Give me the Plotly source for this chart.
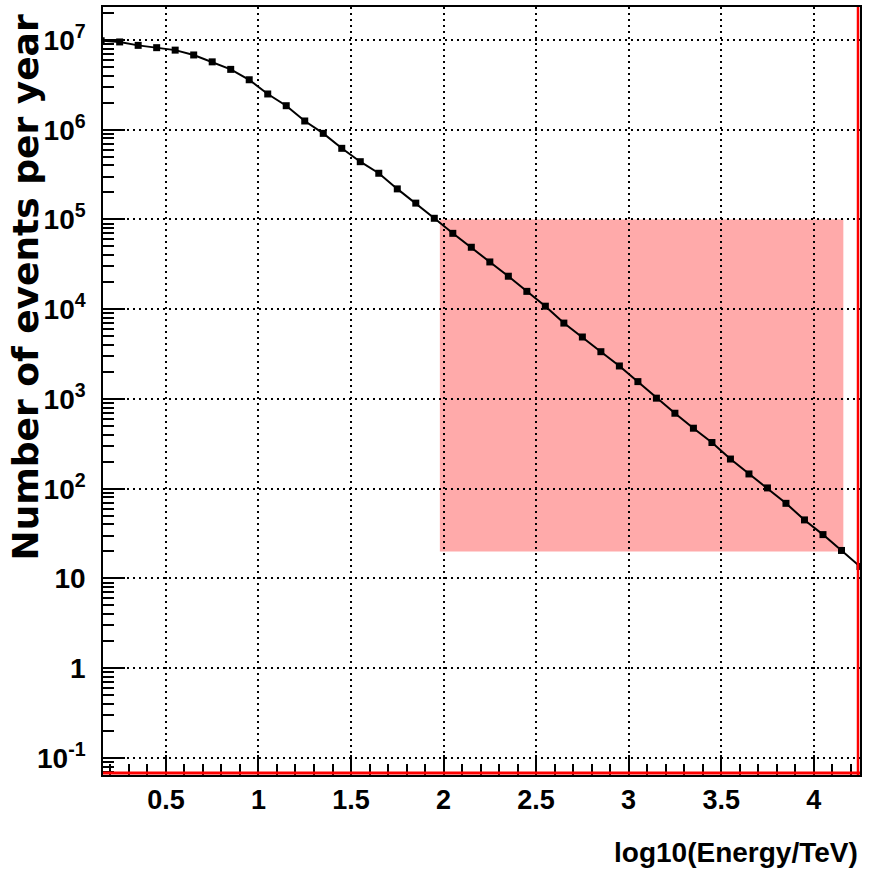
import plotly.graph_objects as go

# --- data -------------------------------------------------------------
log_energy = [0.15, 0.25, 0.35, 0.45, 0.55, 0.65, 0.75, 0.85, 0.95, 1.05,
              1.15, 1.25, 1.35, 1.45, 1.55, 1.65, 1.75, 1.85, 1.95, 2.05,
              2.15, 2.25, 2.35, 2.45, 2.55, 2.65, 2.75, 2.85, 2.95, 3.05,
              3.15, 3.25, 3.35, 3.45, 3.55, 3.65, 3.75, 3.85, 3.95, 4.05,
              4.15, 4.25]
events = [9.8e6, 9.5e6, 8.7e6, 8.2e6, 7.7e6, 6.8e6, 5.7e6, 4.7e6, 3.6e6, 2.5e6,
          1.85e6, 1.25e6, 9.1e5, 6.2e5, 4.4e5, 3.27e5, 2.19e5, 1.52e5, 1.03e5, 7.0e4,
          4.9e4, 3.36e4, 2.33e4, 1.58e4, 1.08e4, 7.0e3, 4.9e3, 3.36e3, 2.33e3, 1.56e3,
          1.02e3, 693, 472, 327, 214, 146, 102, 68.7, 44.9, 30.8,
          20.5, 13.6]

# highlighted region (x from, x to, y from, y to)
region_x = [1.98, 4.16]
region_y = [20, 1e5]

y_tick_vals = [1e-1, 1, 10, 1e2, 1e3, 1e4, 1e5, 1e6, 1e7]
y_tick_text = ["10<sup>-1</sup>", "1", "10", "10<sup>2</sup>", "10<sup>3</sup>",
               "10<sup>4</sup>", "10<sup>5</sup>", "10<sup>6</sup>", "10<sup>7</sup>"]

x_title = "log10(Energy/TeV)"
y_title = "Number of events per year"

FONT = "Liberation Sans, Arial, sans-serif"
GRID_DASH = "2px,4px"

fig = go.Figure()
fig.add_trace(go.Scatter(
    x=log_energy, y=events, mode="lines+markers",
    line=dict(color="black", width=2),
    marker=dict(symbol="square", size=7, color="black"),
    showlegend=False, cliponaxis=True,
))

fig.add_shape(type="rect", xref="x", yref="y",
              x0=region_x[0], x1=region_x[1], y0=region_y[0], y1=region_y[1],
              fillcolor="#ffaaaa", line=dict(width=0), layer="below")

# red frame lines (bottom and right)
fig.add_shape(type="line", xref="paper", yref="paper", x0=0, x1=1,
              y0=2, y1=2, ysizemode="pixel", yanchor=0,
              line=dict(color="red", width=3), layer="above")
fig.add_shape(type="line", xref="paper", yref="paper", y0=0, y1=1,
              x0=-2, x1=-2, xsizemode="pixel", xanchor=1,
              line=dict(color="red", width=2.5), layer="above")

fig.update_layout(
    width=877, height=877,
    margin=dict(l=103, r=17, t=5, b=102),
    paper_bgcolor="white", plot_bgcolor="white",
    font=dict(family=FONT, color="black"),
    xaxis=dict(
        range=[0.16, 4.25], tick0=0, dtick=0.5,
        ticks="inside", ticklen=20, tickwidth=1.5, tickcolor="black",
        showline=True, linecolor="black", linewidth=1.5, mirror=True,
        showgrid=True, gridcolor="black", griddash=GRID_DASH, gridwidth=1.8,
        zeroline=False,
        tickfont=dict(family=FONT, size=27, weight="bold"),
        ticklabelstandoff=0,
        minor=dict(tick0=0, dtick=0.1, ticks="inside", ticklen=11,
                   tickwidth=1.5, tickcolor="black", showgrid=False),
    ),
    yaxis=dict(
        type="log", range=[-1.19, 7.367],
        tickmode="array", tickvals=y_tick_vals, ticktext=y_tick_text,
        ticks="inside", ticklen=22, tickwidth=1.5, tickcolor="black",
        showline=True, linecolor="black", linewidth=1.5, mirror=True,
        showgrid=True, gridcolor="black", griddash=GRID_DASH, gridwidth=1.8,
        zeroline=False,
        tickfont=dict(family=FONT, size=28, weight="bold"),
        ticklabelstandoff=10,
        minor=dict(dtick="D1", ticks="inside", ticklen=11,
                   tickwidth=1.5, tickcolor="black", showgrid=False),
    ),
    annotations=[
        dict(text=x_title, xref="paper", yref="paper", x=1, y=0,
             xanchor="right", yanchor="top", yshift=-60, xshift=0,
             showarrow=False,
             font=dict(family=FONT, size=28, weight="bold")),
        dict(text=y_title, xref="paper", yref="paper", x=0, y=1,
             xanchor="right", yanchor="top", xshift=-56, yshift=-6,
             textangle=-90, showarrow=False,
             font=dict(family="DejaVu Sans", size=36, weight="bold")),
    ],
)

fig.write_html("out.html")
